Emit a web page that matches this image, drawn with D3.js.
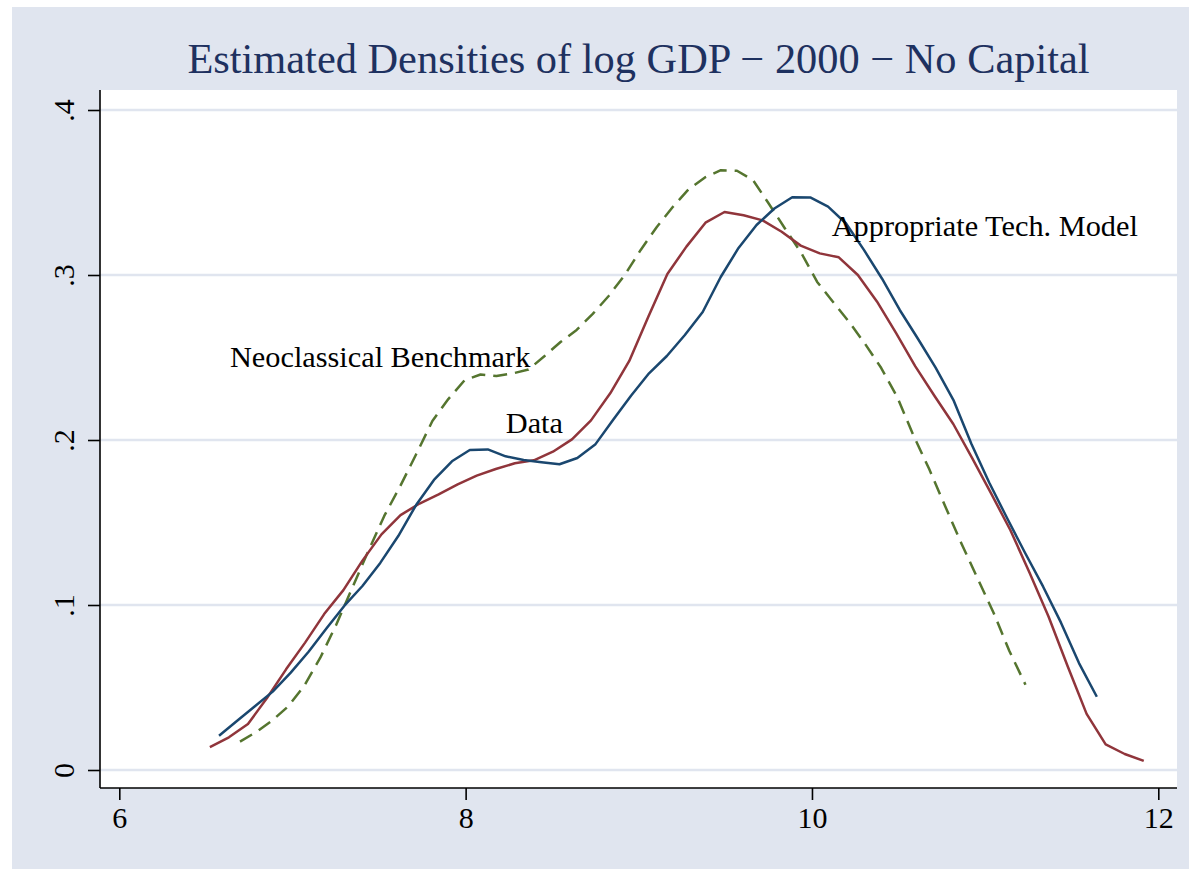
<!DOCTYPE html>
<html>
<head>
<meta charset="utf-8">
<script src="https://cdn.jsdelivr.net/npm/d3@7"></script>
<style>
  html, body { margin: 0; padding: 0; background: #ffffff; }
  svg { display: block; }
  text { font-family: "Liberation Serif", "Times New Roman", serif; }
</style>
</head>
<body>
<svg id="chart" width="1189" height="869"></svg>
<script>
// Kernel density estimates of log GDP per worker, 2000 (no capital)
// "Data" series
const dataX = [6.523, 6.633, 6.743, 6.853, 6.963, 7.073, 7.183, 7.294, 7.404, 7.514,
  7.624, 7.734, 7.844, 7.954, 8.064, 8.174, 8.284, 8.394, 8.504, 8.614,
  8.724, 8.835, 8.945, 9.055, 9.165, 9.275, 9.385, 9.495, 9.605, 9.715,
  9.825, 9.935, 10.045, 10.155, 10.265, 10.375, 10.486, 10.596, 10.706, 10.816,
  10.926, 11.036, 11.146, 11.256, 11.366, 11.476, 11.586, 11.696, 11.806, 11.916];
const dataY = [0.0139, 0.0198, 0.0279, 0.0436, 0.0610, 0.0772, 0.0945, 0.1090, 0.1269, 0.1428,
  0.1545, 0.1615, 0.1671, 0.1731, 0.1784, 0.1824, 0.1859, 0.1877, 0.1929, 0.2004,
  0.2119, 0.2283, 0.2479, 0.2747, 0.3006, 0.3172, 0.3317, 0.3382, 0.3362, 0.3331,
  0.3262, 0.3178, 0.3131, 0.3107, 0.3000, 0.2840, 0.2648, 0.2448, 0.2270, 0.2097,
  0.1889, 0.1673, 0.1453, 0.1197, 0.0930, 0.0630, 0.0340, 0.0155, 0.0097, 0.0055];

// "Appropriate Tech. Model" series
const techX = [6.576, 6.679, 6.783, 6.886, 6.990, 7.093, 7.197, 7.300, 7.404, 7.507,
  7.611, 7.714, 7.817, 7.921, 8.024, 8.128, 8.231, 8.335, 8.438, 8.542,
  8.645, 8.748, 8.852, 8.955, 9.059, 9.162, 9.266, 9.369, 9.473, 9.576,
  9.680, 9.783, 9.886, 9.990, 10.093, 10.197, 10.300, 10.404, 10.507, 10.611,
  10.714, 10.817, 10.921, 11.024, 11.128, 11.231, 11.335, 11.438, 11.542, 11.645];
const techY = [0.0208, 0.0297, 0.0386, 0.0475, 0.0590, 0.0717, 0.0859, 0.0996, 0.1115, 0.1255,
  0.1418, 0.1606, 0.1758, 0.1871, 0.1939, 0.1943, 0.1901, 0.1879, 0.1865, 0.1853,
  0.1891, 0.1972, 0.2123, 0.2268, 0.2404, 0.2509, 0.2636, 0.2776, 0.2988, 0.3164,
  0.3303, 0.3403, 0.3471, 0.3470, 0.3414, 0.3312, 0.3152, 0.2979, 0.2788, 0.2615,
  0.2439, 0.2242, 0.1976, 0.1741, 0.1524, 0.1315, 0.1111, 0.0893, 0.0648, 0.0444];

// "Neoclassical Benchmark" series
const neoX = [6.697, 6.790, 6.882, 6.975, 7.067, 7.160, 7.252, 7.345, 7.438, 7.530,
  7.623, 7.715, 7.808, 7.900, 7.993, 8.086, 8.178, 8.271, 8.363, 8.456,
  8.548, 8.641, 8.734, 8.826, 8.919, 9.011, 9.104, 9.196, 9.289, 9.382,
  9.474, 9.567, 9.659, 9.752, 9.844, 9.937, 10.030, 10.122, 10.215, 10.307,
  10.400, 10.492, 10.585, 10.677, 10.770, 10.863, 10.955, 11.048, 11.140, 11.233];
const neoY = [0.0172, 0.0230, 0.0299, 0.0385, 0.0509, 0.0679, 0.0879, 0.1103, 0.1327, 0.1540,
  0.1722, 0.1915, 0.2115, 0.2248, 0.2361, 0.2397, 0.2388, 0.2403, 0.2427, 0.2509,
  0.2594, 0.2667, 0.2764, 0.2873, 0.3000, 0.3152, 0.3291, 0.3412, 0.3521, 0.3591,
  0.3635, 0.3632, 0.3576, 0.3430, 0.3282, 0.3136, 0.2958, 0.2836, 0.2715, 0.2582,
  0.2436, 0.2261, 0.2030, 0.1824, 0.1597, 0.1373, 0.1164, 0.0955, 0.0721, 0.0517];

const xTicks = [6, 8, 10, 12];
const xTickLabels = ["6", "8", "10", "12"];
const yTicks = [0, 0.1, 0.2, 0.3, 0.4];
const yTickLabels = ["0", ".1", ".2", ".3", ".4"];

const titleText = "Estimated Densities of log GDP \u2212 2000 \u2212 No Capital";

// In-plot annotations (data coordinates of each label's left baseline)
const labelText = ["Neoclassical Benchmark", "Data", "Appropriate Tech. Model"];
const labelX = [6.639, 8.232, 10.114];
const labelY = [0.2442, 0.2042, 0.3236];

// ---- drawing ----
const W = 1189, H = 869;
const plot = { left: 100, right: 1177, top: 90, bottom: 788 };

const svg = d3.select("#chart");

// outer graph region
svg.append("rect").attr("x", 0).attr("y", 0).attr("width", W).attr("height", H).attr("fill", "#ffffff");
svg.append("rect").attr("x", 12).attr("y", 7).attr("width", W - 12).attr("height", H - 7).attr("fill", "#E0E5EF");

// plot region
svg.append("rect")
  .attr("x", plot.left).attr("y", plot.top)
  .attr("width", plot.right - plot.left).attr("height", plot.bottom - plot.top)
  .attr("fill", "#ffffff");

const x = d3.scaleLinear().domain([6, 12]).range([119.3, 1158.3]);
const y = d3.scaleLinear().domain([0, 0.4]).range([770, 110]);

// horizontal grid lines
svg.append("g").selectAll("line").data(yTicks).join("line")
  .attr("x1", plot.left).attr("x2", plot.right)
  .attr("y1", d => y(d)).attr("y2", d => y(d))
  .attr("stroke", "#E0E5EF").attr("stroke-width", 2.5);

// y axis
const yAxis = d3.axisLeft(y).tickValues(yTicks)
  .tickFormat((d, i) => yTickLabels[i]).tickSize(12).tickSizeOuter(0);
const gy = svg.append("g").attr("transform", `translate(${plot.left},0)`).call(yAxis);
gy.select(".domain").remove();
gy.selectAll(".tick line").attr("stroke", "#000").attr("stroke-width", 1.6);
gy.selectAll(".tick text")
  .attr("x", null).attr("dy", null)
  .attr("transform", "translate(-26,0) rotate(-90)")
  .attr("text-anchor", "middle")
  .attr("font-size", 30).attr("fill", "#000");
svg.append("line").attr("x1", plot.left).attr("x2", plot.left)
  .attr("y1", plot.top).attr("y2", plot.bottom)
  .attr("stroke", "#000").attr("stroke-width", 1.6);

// x axis
const xAxis = d3.axisBottom(x).tickValues(xTicks)
  .tickFormat((d, i) => xTickLabels[i]).tickSize(12).tickSizeOuter(0);
const gx = svg.append("g").attr("transform", `translate(0,${plot.bottom})`).call(xAxis);
gx.select(".domain").remove();
gx.selectAll(".tick line").attr("stroke", "#000").attr("stroke-width", 1.6);
gx.selectAll(".tick text")
  .attr("y", 40).attr("dy", null)
  .attr("font-size", 30).attr("fill", "#000");
svg.append("line").attr("x1", plot.left).attr("x2", plot.right)
  .attr("y1", plot.bottom).attr("y2", plot.bottom)
  .attr("stroke", "#000").attr("stroke-width", 1.6);

// density curves
const line = d3.line().x(d => x(d[0])).y(d => y(d[1]));
const series = [
  { xs: neoX, ys: neoY, color: "#55752F", dash: "14,8" },
  { xs: dataX, ys: dataY, color: "#90353B", dash: null },
  { xs: techX, ys: techY, color: "#1A476F", dash: null }
];
series.forEach(s => {
  svg.append("path")
    .datum(d3.zip(s.xs, s.ys))
    .attr("d", line)
    .attr("fill", "none")
    .attr("stroke", s.color)
    .attr("stroke-width", 2.5)
    .attr("stroke-linejoin", "round")
    .attr("stroke-dasharray", s.dash);
});

// annotations
svg.append("g").selectAll("text").data(labelText).join("text")
  .attr("x", (d, i) => x(labelX[i]))
  .attr("y", (d, i) => y(labelY[i]))
  .attr("font-size", 30.3)
  .attr("fill", "#000")
  .text(d => d);

// title
svg.append("text")
  .attr("x", (plot.left + plot.right) / 2)
  .attr("y", 73)
  .attr("text-anchor", "middle")
  .attr("font-size", 42.4)
  .attr("fill", "#1E3160")
  .text(titleText);
</script>
</body>
</html>
